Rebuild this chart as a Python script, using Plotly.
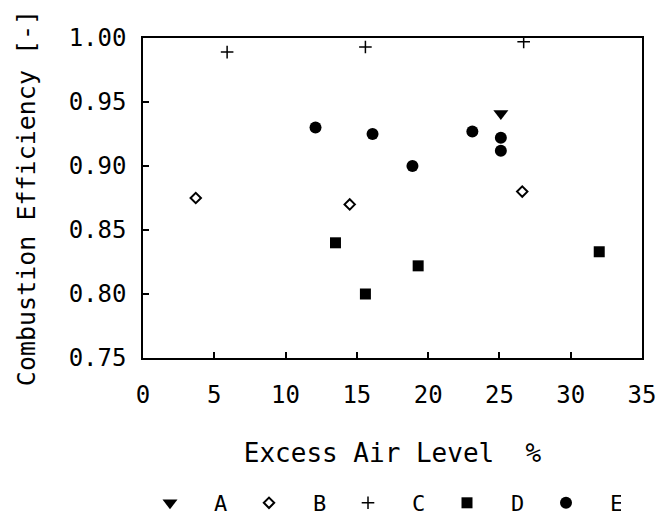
import plotly.graph_objects as go

# Data
a_x = [25.1]
a_y = [0.941]
b_x = [3.7, 14.5, 26.6]
b_y = [0.875, 0.870, 0.880]
c_x = [5.9, 15.6, 26.7]
c_y = [0.989, 0.993, 0.997]
d_x = [13.5, 15.6, 19.3, 32.0]
d_y = [0.840, 0.800, 0.822, 0.833]
e_x = [12.1, 16.1, 18.9, 23.1, 25.1, 25.1]
e_y = [0.930, 0.925, 0.900, 0.927, 0.922, 0.912]

x_ticks = [0, 5, 10, 15, 20, 25, 30, 35]
y_ticks = [0.75, 0.80, 0.85, 0.90, 0.95, 1.00]

FONT = "DejaVu Sans Mono"

fig = go.Figure()
fig.add_trace(go.Scatter(x=a_x, y=a_y, mode="markers", name="A",
                         marker=dict(symbol="triangle-down", size=13, color="black")))
fig.add_trace(go.Scatter(x=b_x, y=b_y, mode="markers", name="B",
                         marker=dict(symbol="diamond-open", size=8, color="black",
                                     line=dict(width=2, color="black"))))
fig.add_trace(go.Scatter(x=c_x, y=c_y, mode="markers", name="C",
                         marker=dict(symbol="cross-thin", size=9, color="black",
                                     line=dict(width=1.5, color="black"))))
fig.add_trace(go.Scatter(x=d_x, y=d_y, mode="markers", name="D",
                         marker=dict(symbol="square", size=11, color="black")))
fig.add_trace(go.Scatter(x=e_x, y=e_y, mode="markers", name="E",
                         marker=dict(symbol="circle", size=12, color="black")))

fig.update_layout(
    width=664, height=520,
    margin=dict(l=143, r=22, t=38, b=162),
    paper_bgcolor="white", plot_bgcolor="white",
    font=dict(family=FONT, size=22, color="black"),
    showlegend=True,
    legend=dict(orientation="h", xref="container", yref="container",
                x=126 / 664, xanchor="left", y=17 / 520, yanchor="middle",
                itemwidth=78, entrywidth=6, entrywidthmode="pixels",
                font=dict(family=FONT, size=22), bgcolor="rgba(0,0,0,0)",
                itemclick=False),
)
fig.update_xaxes(range=[0, 35], tickvals=x_ticks, ticks="inside", ticklen=6,
                 tickwidth=1.5, tickcolor="black", showline=True, linecolor="black",
                 linewidth=1.5, mirror=True, showgrid=False, zeroline=False,
                 automargin=False,
                 ticklabelstandoff=14, tickfont=dict(family=FONT, size=24),
                 title=dict(text="Excess Air Level  %", standoff=36,
                            font=dict(family=FONT, size=26)))
fig.update_yaxes(range=[0.75, 1.0], tickvals=y_ticks, tickformat=".2f",
                 ticks="inside", ticklen=6, tickwidth=1.5, tickcolor="black",
                 showline=True, linecolor="black", linewidth=1.5, mirror=True,
                 showgrid=False, zeroline=False, automargin=False,
                 ticklabelstandoff=10,
                 tickfont=dict(family=FONT, size=24),
                 title=dict(text="Combustion Efficiency [-]", standoff=26,
                            font=dict(family=FONT, size=25)))

fig.write_html("out.html")
